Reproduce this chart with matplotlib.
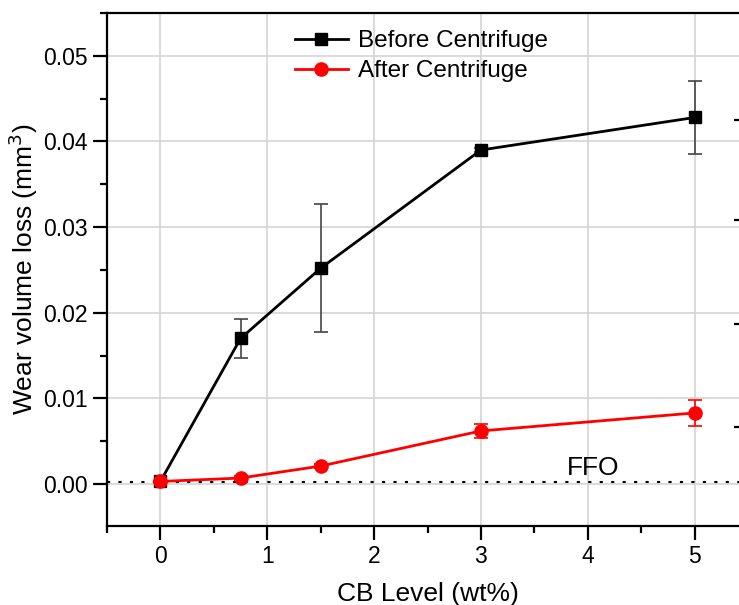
import matplotlib
matplotlib.use("Agg")
import matplotlib.pyplot as plt
from matplotlib.ticker import MultipleLocator, FixedLocator, FormatStrFormatter
from matplotlib.lines import Line2D

plt.rcParams['font.family'] = ['Liberation Sans', 'DejaVu Sans']

cb_level = [0, 0.75, 1.5, 3, 5]
before_vals = [0.0003, 0.0170, 0.0252, 0.0390, 0.0428]
before_err = [0.0, 0.0023, 0.0075, 0.0002, 0.0043]
after_vals = [0.0003, 0.0007, 0.0021, 0.0062, 0.0083]
after_err = [0.0, 0.0002, 0.0002, 0.0008, 0.0015]
ffo_level = 0.0002
right_ticks = [0.0425, 0.0308, 0.0187, 0.0067]

fig = plt.figure(figsize=(7.39, 6.05), dpi=100)
ax = fig.add_axes([107/739, 79/605, (748-107)/739, (526-13)/605])

ax.errorbar(cb_level, before_vals, yerr=before_err, color='black', marker='s',
            markersize=8.5, linewidth=2.0, ecolor='#444444', elinewidth=1.2,
            capsize=5, capthick=1.2, zorder=3)
ax.errorbar(cb_level, after_vals, yerr=after_err, color='red', marker='o',
            markersize=9.5, linewidth=2.0, ecolor='red', elinewidth=1.2,
            capsize=5, capthick=1.2, zorder=4)

ax.axhline(ffo_level, color='black', linestyle=(0, (1.5, 4)), linewidth=1.5, zorder=2)
ax.text(4.05, 0.0019, 'FFO', fontsize=19, ha='center', va='center')

ax.set_xlim(-0.5, 5.5)
ax.set_ylim(-0.0049, 0.0550)
ax.xaxis.set_major_locator(MultipleLocator(1))
ax.xaxis.set_minor_locator(MultipleLocator(0.5))
ax.yaxis.set_major_locator(MultipleLocator(0.01))
ax.yaxis.set_minor_locator(MultipleLocator(0.005))
ax.yaxis.set_major_formatter(FormatStrFormatter('%.2f'))

ax.grid(True, which='major', color='#d4d4d4', linewidth=1.2, zorder=0)
ax.set_axisbelow(True)

for side in ['left', 'bottom', 'top']:
    ax.spines[side].set_linewidth(1.6)
ax.spines['right'].set_visible(False)

ax.tick_params(which='major', direction='out', length=10, width=1.6, labelsize=16.5, pad=4)
ax.tick_params(which='minor', direction='out', length=5, width=1.6)
ax.tick_params(top=False, right=False, which='both')

ax.set_xlabel('CB Level (wt%)', fontsize=19, labelpad=10)
ax.set_ylabel('Wear volume loss (mm$^3$)', fontsize=19, labelpad=2)

handles = [
    Line2D([], [], color='black', marker='s', markersize=8.5, linewidth=2.0),
    Line2D([], [], color='red', marker='o', markersize=9.5, linewidth=2.0),
]
ax.legend(handles, ['Before Centrifuge', 'After Centrifuge'],
          loc='upper left', bbox_to_anchor=(0.27, 0.995), frameon=False,
          fontsize=17.5, handlelength=2.2, handletextpad=0.4,
          labelspacing=0.34, borderaxespad=0.2)

# secondary axis on the right edge, only its inward ticks show
ax2 = ax.twinx()
ax2.set_ylim(ax.get_ylim())
ax2.yaxis.set_major_locator(FixedLocator(right_ticks))
ax2.tick_params(axis='y', direction='in', length=10, width=1.6, labelright=False)
for side in ['left', 'bottom', 'top', 'right']:
    ax2.spines[side].set_visible(False)

fig.savefig('out.png', dpi=100)
